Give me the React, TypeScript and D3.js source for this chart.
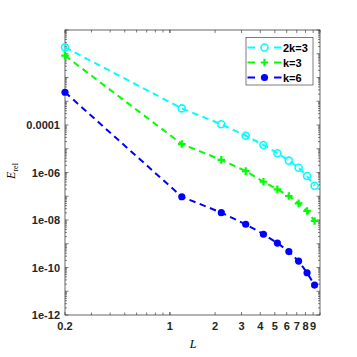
import React, { useEffect, useRef } from 'react';
import * as d3 from 'd3';

const Ls = [0.2, 1.2, 2.2, 3.2, 4.2, 5.2, 6.2, 7.2, 8.2, 9.2];
const cyanLog = [-0.73, -3.30, -3.97, -4.45, -4.84, -5.19, -5.50, -5.80, -6.15, -6.56];
const greenLog = [-1.08, -4.80, -5.47, -5.94, -6.39, -6.71, -6.99, -7.30, -7.62, -8.04];
const blueLog = [-2.62, -7.02, -7.69, -8.18, -8.60, -8.97, -9.33, -9.73, -10.22, -10.74];
const xTickLabels = [0.2, 1, 2, 3, 4, 5, 6, 7, 8, 9];
const yTickLabels = [
  { v: 1e-12, t: '1e-12' },
  { v: 1e-10, t: '1e-10' },
  { v: 1e-8, t: '1e-08' },
  { v: 1e-6, t: '1e-06' },
  { v: 1e-4, t: '0.0001' },
];

const series = [
  { name: '2k=3', vals: cyanLog, color: '#00ffff', marker: 'open' },
  { name: 'k=3', vals: greenLog, color: '#00ff00', marker: 'plus' },
  { name: 'k=6', vals: blueLog, color: '#0000ff', marker: 'dot' },
];

const App = () => {
  const ref = useRef<SVGSVGElement>(null);

  useEffect(() => {
    const svg = d3.select(ref.current);
    svg.selectAll('*').remove();
    const left = 65, right = 320, top = 30, bottom = 315;

    const x = d3.scaleLog().domain([0.2, 10]).range([left, right]);
    const y = d3.scaleLog().domain([1e-12, 1]).range([bottom, top]);

    const font = 'Liberation Sans, Arial, sans-serif';
    const axisColor = '#262626';

    // minor/major ticks
    const xTicks: number[] = [];
    for (let v = 0.2; v < 1; v += 0.1) xTicks.push(+v.toFixed(1));
    for (let v = 1; v <= 10; v++) xTicks.push(v);
    const yMajor: number[] = [];
    const yMinor: number[] = [];
    for (let e = -12; e <= 0; e++) {
      yMajor.push(Math.pow(10, e));
      if (e < 0) for (let m = 2; m <= 9; m++) yMinor.push(m * Math.pow(10, e));
    }

    const g = svg.append('g');
    const tick = (x1: number, y1: number, x2: number, y2: number) =>
      g.append('line').attr('x1', x1).attr('y1', y1).attr('x2', x2).attr('y2', y2)
        .attr('stroke', axisColor).attr('stroke-width', 0.6);

    xTicks.forEach(v => {
      const px = x(v);
      const len = xTickLabels.includes(v) ? 3 : 2.5;
      tick(px, bottom, px, bottom - len);
      tick(px, top, px, top + len);
    });
    yMajor.forEach(v => {
      tick(left, y(v), left + 3.5, y(v));
      tick(right, y(v), right - 3.5, y(v));
    });
    yMinor.forEach(v => {
      tick(left, y(v), left + 2, y(v));
      tick(right, y(v), right - 2, y(v));
    });

    g.append('rect')
      .attr('x', left).attr('y', top)
      .attr('width', right - left).attr('height', bottom - top)
      .attr('fill', 'none').attr('stroke', axisColor).attr('stroke-width', 0.7);

    xTickLabels.forEach(v => {
      g.append('text')
        .attr('x', x(v)).attr('y', bottom + 15)
        .attr('text-anchor', 'middle')
        .style('font-family', font).style('font-weight', 'bold').style('font-size', '11px')
        .attr('fill', axisColor)
        .text(String(v));
    });
    yTickLabels.forEach(d => {
      g.append('text')
        .attr('x', left - 5).attr('y', y(d.v) + 4)
        .attr('text-anchor', 'end')
        .style('font-family', font).style('font-weight', 'bold').style('font-size', '11px')
        .attr('fill', axisColor)
        .text(d.t);
    });

    // axis labels
    g.append('text')
      .attr('x', 193).attr('y', 348)
      .attr('text-anchor', 'middle')
      .style('font-family', 'Liberation Serif, serif').style('font-style', 'italic').style('font-size', '12px')
      .text('L');
    const yl = g.append('text')
      .attr('transform', 'translate(15,171) rotate(-90)')
      .attr('text-anchor', 'middle')
      .style('font-family', 'Liberation Serif, serif').style('font-size', '12px');
    yl.append('tspan').style('font-style', 'italic').text('E');
    yl.append('tspan').attr('dy', 2.5).style('font-size', '8px').text('rel');

    const drawMarker = (sel: any, kind: string, color: string, px: number, py: number) => {
      if (kind === 'open') {
        sel.append('circle').attr('cx', px).attr('cy', py).attr('r', 3.5)
          .attr('fill', 'none').attr('stroke', color).attr('stroke-width', 1.6);
      } else if (kind === 'dot') {
        sel.append('circle').attr('cx', px).attr('cy', py).attr('r', 3.6)
          .attr('fill', color);
      } else {
        sel.append('path')
          .attr('d', `M${px - 3.8},${py}H${px + 3.8}M${px},${py - 3.8}V${py + 3.8}`)
          .attr('stroke', color).attr('stroke-width', 2.2);
      }
    };

    const line = d3.line<[number, number]>()
      .x(d => x(d[0]))
      .y(d => y(Math.pow(10, d[1])));

    series.forEach(s => {
      const pts: [number, number][] = Ls.map((l, i) => [l, s.vals[i]]);
      g.append('path')
        .attr('d', line(pts))
        .attr('fill', 'none')
        .attr('stroke', s.color)
        .attr('stroke-width', 2)
        .attr('stroke-dasharray', '6.5,4.5');
      pts.forEach(p => drawMarker(g, s.marker, s.color, x(p[0]), y(Math.pow(10, p[1]))));
    });

    // legend
    const lg = g.append('g');
    lg.append('rect')
      .attr('x', 246).attr('y', 37.5).attr('width', 67).attr('height', 47.5)
      .attr('fill', 'white').attr('stroke', '#262626').attr('stroke-width', 0.6);
    const rows = [47.5, 62.5, 77.5];
    series.forEach((s, i) => {
      const ry = rows[i];
      lg.append('line')
        .attr('x1', 247.5).attr('x2', 281.5).attr('y1', ry).attr('y2', ry)
        .attr('stroke', s.color).attr('stroke-width', 2).attr('stroke-dasharray', '7.5,19');
      drawMarker(lg, s.marker, s.color, 264.5, ry);
      lg.append('text')
        .attr('x', 283).attr('y', ry + 4)
        .style('font-family', font).style('font-weight', 'bold').style('font-size', '11px')
        .attr('fill', '#000')
        .text(s.name);
    });
  }, []);

  return (
    <svg ref={ref} width={357} height={357}
      style={{ position: 'absolute', left: 0, top: 0, background: 'white' }} />
  );
};

export default App;
